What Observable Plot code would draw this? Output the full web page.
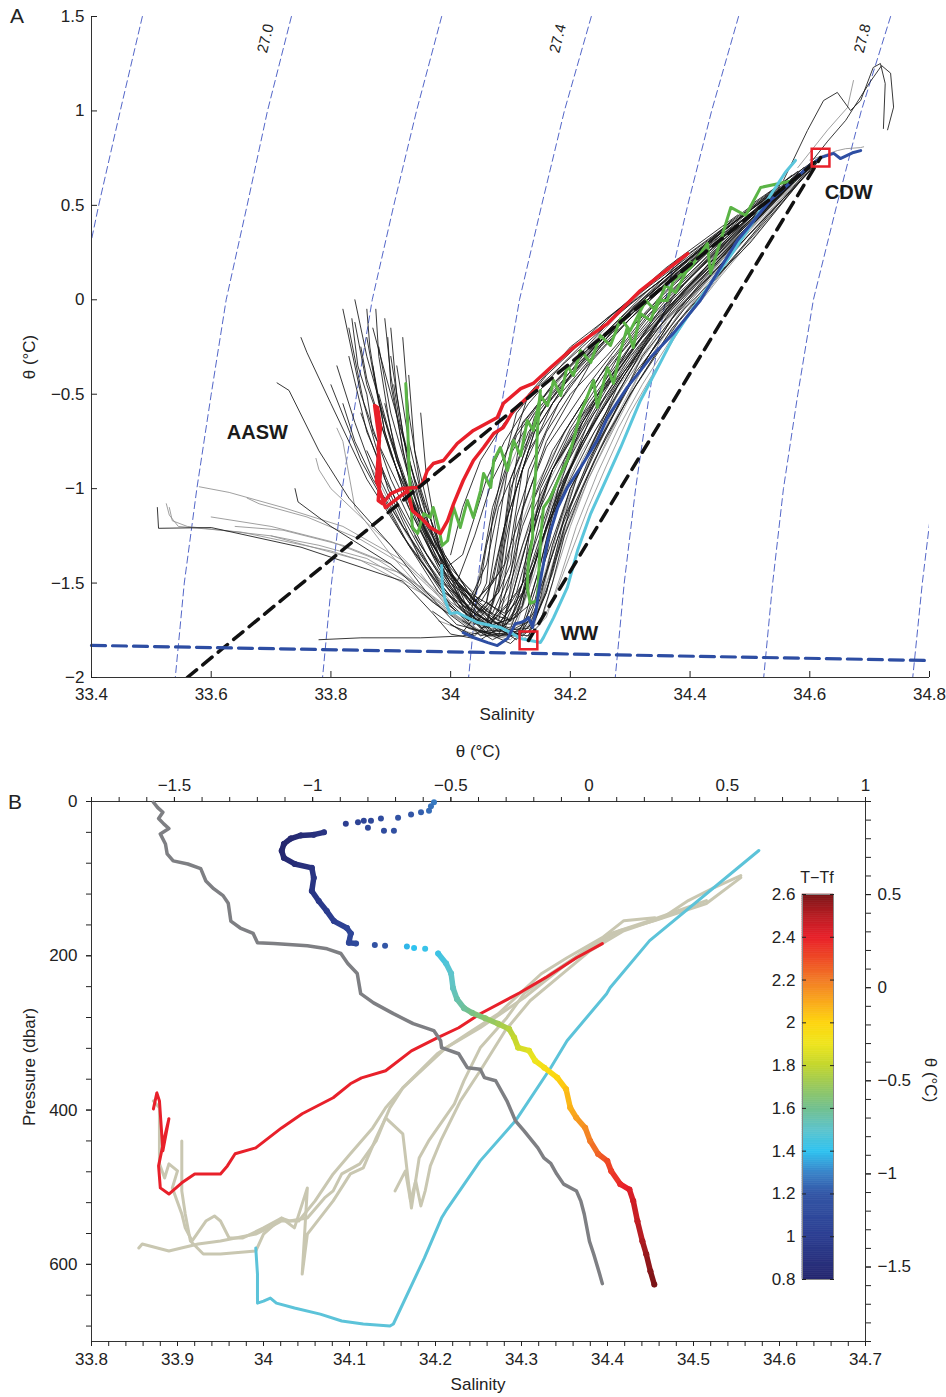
<!DOCTYPE html>
<html><head><meta charset="utf-8">
<script src="https://cdn.jsdelivr.net/npm/d3@7"></script>
<script src="https://cdn.jsdelivr.net/npm/@observablehq/plot@0.6"></script>
<style>
body{margin:0;background:#fff;font-family:"Liberation Sans",Arial,sans-serif;}
#wrap{position:relative;width:946px;height:1397px;overflow:hidden;background:#fff;}
.lbl{position:absolute;font-size:17px;color:#222;white-space:nowrap;transform:translate(-50%,-50%);}
.pan{position:absolute;font-size:21px;color:#222;}
</style></head><body><div id="wrap"></div>
<script>
// ---------------- Panel A data ----------------
const salTicksA = [33.4,33.6,33.8,34,34.2,34.4,34.6,34.8];
const thetaTicksA = [-2,-1.5,-1,-0.5,0,0.5,1,1.5];
const isoTheta = [1.5,1.0,0.5,0.0,-0.5,-1.0,-1.5,-2.0];
const iso268 = [33.485,33.448,33.412,33.379];
const iso270 = [33.734,33.694,33.660,33.625,33.600,33.576,33.555,33.540];
const iso272 = [33.985,33.943,33.905,33.869,33.843,33.819,33.801,33.786];
const iso274 = [34.235,34.190,34.152,34.115,34.088,34.063,34.045,34.030];
const iso276 = [34.481,34.436,34.396,34.359,34.332,34.309,34.290,34.275];
const iso278 = [34.735,34.686,34.645,34.606,34.580,34.556,34.538,34.523];
const iso280 = [34.985,34.937,34.895,34.857,34.830,34.807,34.788,34.772];
const isoLabelText = ["27.0","27.4","27.8"];
const isoLabelS = [33.691,34.179,34.688];
const isoLabelT = [1.384,1.384,1.384];
const regionText = ["AASW","CDW","WW"];
const regionS = [33.677,34.665,34.215];
const regionT = [-0.703,0.568,-1.767];
const freezeLine = [[33.4,-1.83],[34.8,-1.91]];
const mixLine1 = [[33.56,-2.0],[34.618,0.753]];
const mixLine2 = [[34.13,-1.804],[34.618,0.753]];
const squaresA = [[34.618,0.753],[34.130,-1.804]];

const blackCasts = [
 [[33.82,-0.05],[33.85,-0.5],[33.90,-0.95],[33.96,-1.35],[34.02,-1.65],[34.06,-1.72],[34.10,-1.3],[34.16,-0.75],[34.24,-0.3],[34.33,0.0],[34.45,0.35],[34.56,0.62]],
 [[33.84,-0.12],[33.86,-0.45],[33.91,-0.9],[33.97,-1.3],[34.03,-1.6],[34.08,-1.70],[34.12,-1.2],[34.17,-0.8],[34.26,-0.35],[34.35,0.02],[34.48,0.40],[34.58,0.66]],
 [[33.86,-0.2],[33.88,-0.55],[33.93,-1.0],[33.98,-1.4],[34.05,-1.68],[34.1,-1.74],[34.14,-1.4],[34.19,-0.95],[34.26,-0.5],[34.36,-0.05],[34.50,0.42],[34.60,0.70]],
 [[33.88,-0.25],[33.90,-0.6],[33.94,-1.05],[34.00,-1.45],[34.07,-1.70],[34.11,-1.55],[34.15,-1.1],[34.22,-0.65],[34.31,-0.2],[34.40,0.12],[34.52,0.48],[34.61,0.73]],
 [[33.90,-0.3],[33.92,-0.7],[33.95,-1.1],[34.01,-1.5],[34.04,-1.72],[34.07,-1.6],[34.09,-1.2],[34.14,-0.7],[34.21,-0.35],[34.32,0.0],[34.44,0.30],[34.57,0.64]],
 [[33.91,-0.35],[33.93,-0.75],[33.96,-1.15],[33.99,-1.45],[34.06,-1.78],[34.12,-1.75],[34.15,-1.45],[34.2,-1.0],[34.27,-0.55],[34.34,-0.15],[34.46,0.30],[34.6,0.72]],
 [[33.83,-0.3],[33.86,-0.7],[33.92,-1.15],[33.98,-1.5],[34.05,-1.74],[34.09,-1.7],[34.11,-1.35],[34.13,-0.9],[34.18,-0.55],[34.28,-0.12],[34.40,0.25],[34.55,0.6]],
 [[33.85,-0.6],[33.89,-0.95],[33.95,-1.3],[34.02,-1.62],[34.1,-1.78],[34.13,-1.7],[34.17,-1.35],[34.21,-0.95],[34.28,-0.45],[34.36,-0.05],[34.49,0.38],[34.61,0.74]],
 [[33.80,-0.45],[33.85,-0.85],[33.92,-1.25],[33.99,-1.55],[34.06,-1.70],[34.08,-1.5],[34.1,-1.05],[34.12,-0.65],[34.2,-0.35],[34.3,-0.05],[34.43,0.3],[34.57,0.66]],
 [[33.88,-0.5],[33.91,-0.85],[33.96,-1.25],[34.03,-1.58],[34.08,-1.76],[34.12,-1.62],[34.16,-1.2],[34.24,-0.7],[34.3,-0.38],[34.37,0.0],[34.5,0.4],[34.6,0.7]],
 [[33.93,-0.4],[33.94,-0.8],[33.97,-1.2],[34.01,-1.55],[34.03,-1.7],[34.05,-1.45],[34.07,-1.1],[34.11,-0.72],[34.17,-0.45],[34.27,-0.1],[34.39,0.2],[34.53,0.55]],
 [[33.86,-0.8],[33.92,-1.2],[33.98,-1.48],[34.04,-1.66],[34.11,-1.8],[34.14,-1.65],[34.18,-1.25],[34.23,-0.85],[34.29,-0.5],[34.38,-0.05],[34.5,0.35],[34.62,0.75]],
 [[33.87,-0.15],[33.9,-0.5],[33.94,-0.95],[33.99,-1.35],[34.04,-1.6],[34.08,-1.45],[34.10,-1.0],[34.15,-0.6],[34.24,-0.25],[34.34,0.05],[34.47,0.42],[34.58,0.68]],
 [[33.89,-0.55],[33.92,-0.95],[33.97,-1.35],[34.05,-1.62],[34.09,-1.72],[34.12,-1.5],[34.14,-1.05],[34.19,-0.7],[34.25,-0.4],[34.33,-0.08],[34.45,0.28],[34.59,0.68]],
 [[33.95,-0.6],[33.96,-0.95],[33.98,-1.3],[34.02,-1.6],[34.07,-1.75],[34.13,-1.78],[34.16,-1.55],[34.19,-1.15],[34.25,-0.75],[34.32,-0.3],[34.42,0.1],[34.56,0.6]],
 [[34.0,-1.72],[34.04,-1.78],[34.08,-1.65],[34.10,-1.3],[34.12,-0.9],[34.17,-0.55],[34.25,-0.25],[34.35,0.05],[34.48,0.4],[34.6,0.7]],
 [[33.97,-1.65],[34.02,-1.76],[34.06,-1.6],[34.08,-1.2],[34.10,-0.8],[34.13,-0.5],[34.2,-0.25],[34.31,0.02],[34.44,0.33],[34.58,0.66]],
 [[34.02,-1.7],[34.07,-1.8],[34.12,-1.72],[34.15,-1.4],[34.18,-1.0],[34.22,-0.65],[34.28,-0.3],[34.36,0.0],[34.48,0.35],[34.6,0.7]],
 [[34.05,-1.75],[34.1,-1.82],[34.14,-1.7],[34.17,-1.45],[34.2,-1.1],[34.24,-0.8],[34.3,-0.45],[34.37,-0.1],[34.47,0.25],[34.6,0.68]],
 [[33.99,-1.6],[34.03,-1.7],[34.06,-1.5],[34.07,-1.15],[34.09,-0.85],[34.11,-0.6],[34.16,-0.4],[34.26,-0.1],[34.38,0.2],[34.52,0.52]],
 [[33.84,0.0],[33.86,-0.3],[33.9,-0.75],[33.95,-1.2],[34.0,-1.5],[34.08,-1.72],[34.12,-1.55],[34.15,-1.15],[34.2,-0.8],[34.27,-0.42],[34.35,-0.05],[34.47,0.35],[34.59,0.7]],
 [[33.9,-0.15],[33.91,-0.5],[33.93,-0.9],[33.96,-1.2],[34.0,-1.42],[34.05,-1.6],[34.09,-1.4],[34.11,-0.95],[34.14,-0.62],[34.22,-0.3],[34.33,0.0],[34.46,0.35]],
 [[33.81,-0.35],[33.84,-0.65],[33.88,-1.0],[33.93,-1.3],[33.99,-1.55],[34.06,-1.74],[34.1,-1.6],[34.13,-1.25],[34.17,-0.9],[34.24,-0.55],[34.32,-0.2],[34.42,0.12],[34.56,0.58]],
 [[33.92,-0.2],[33.93,-0.6],[33.95,-1.0],[33.98,-1.3],[34.03,-1.55],[34.09,-1.66],[34.13,-1.45],[34.18,-1.05],[34.23,-0.65],[34.3,-0.3],[34.39,0.05],[34.5,0.38]],
 [[34.0,-1.35],[34.02,-1.1],[34.05,-0.85],[34.09,-0.65],[34.15,-0.45],[34.22,-0.25],[34.3,-0.02],[34.4,0.22],[34.52,0.5]],
 [[34.01,-1.5],[34.04,-1.25],[34.07,-0.95],[34.11,-0.7],[34.17,-0.45],[34.25,-0.2],[34.33,0.05],[34.45,0.35]],
 [[34.03,-1.6],[34.06,-1.4],[34.08,-1.1],[34.12,-0.8],[34.16,-0.55],[34.23,-0.3],[34.31,-0.05],[34.42,0.25],[34.55,0.55]],
 [[34.45,0.32],[34.5,0.45],[34.556,0.632],[34.596,0.896],[34.623,1.055],[34.646,1.098],[34.668,1.002],[34.685,1.055],[34.706,1.23],[34.718,1.251],[34.726,1.145],[34.723,0.907]],
 [[34.5,0.5],[34.60,0.72],[34.63,0.84],[34.66,0.95],[34.70,1.15],[34.72,1.24],[34.735,1.2],[34.74,1.02],[34.73,0.9]],
 [[33.71,-0.44],[33.73,-0.48],[33.78,-0.8],[33.83,-1.05],[33.9,-1.3],[33.96,-1.55],[34.01,-1.72],[34.06,-1.76],[34.1,-1.5],[34.14,-1.1],[34.2,-0.7],[34.28,-0.35],[34.37,0.0]],
 [[33.75,-0.2],[33.76,-0.28],[33.8,-0.55],[33.86,-0.95],[33.93,-1.3],[33.98,-1.55],[34.03,-1.7],[34.06,-1.6],[34.09,-1.2],[34.13,-0.8],[34.2,-0.45],[34.3,-0.1],[34.42,0.25]],
 [[33.74,-1.0],[33.745,-1.07],[33.8,-1.2],[33.9,-1.4],[33.97,-1.6],[34.03,-1.74],[34.08,-1.78],[34.1,-1.6],[34.13,-1.25],[34.17,-0.9],[34.23,-0.55],[34.31,-0.2]],
 [[33.78,-1.8],[33.85,-1.79],[33.95,-1.79],[34.02,-1.78],[34.07,-1.75],[34.11,-1.6],[34.14,-1.3],[34.18,-0.95],[34.24,-0.6],[34.32,-0.25]],
 [[33.83,-0.15],[33.855,-0.55],[33.895,-1.0],[33.95,-1.38],[34.0,-1.62],[34.05,-1.78],[34.09,-1.74],[34.13,-1.5],[34.17,-1.1],[34.22,-0.75],[34.29,-0.4],[34.37,-0.05],[34.49,0.35],[34.6,0.71]],
 [[33.89,-0.1],[33.9,-0.4],[33.92,-0.8],[33.95,-1.15],[34.0,-1.48],[34.07,-1.66],[34.1,-1.45],[34.12,-1.1],[34.16,-0.78],[34.23,-0.45],[34.31,-0.12],[34.42,0.2],[34.55,0.58]],
 [[33.87,-0.35],[33.89,-0.7],[33.93,-1.1],[33.98,-1.42],[34.03,-1.66],[34.08,-1.78],[34.13,-1.76],[34.16,-1.55],[34.19,-1.2],[34.24,-0.85],[34.3,-0.5],[34.38,-0.12],[34.5,0.32],[34.61,0.72]],
 [[33.51,-1.1],[33.512,-1.21],[33.6,-1.206],[33.75,-1.31],[33.92,-1.49],[33.97,-1.66],[34.0,-1.77],[34.05,-1.8],[34.1,-1.7],[34.14,-1.4],[34.18,-1.0],[34.25,-0.6],[34.33,-0.2],[34.44,0.15]],
 [[33.835,-0.1],[33.845,-0.35],[33.86,-0.5],[33.87,-0.7],[33.9,-0.9],[33.93,-1.1],[33.97,-1.35],[34.02,-1.6],[34.07,-1.72],[34.11,-1.68],[34.13,-1.45],[34.16,-1.15],[34.19,-0.85],[34.25,-0.5],[34.33,-0.15],[34.44,0.2],[34.57,0.63]],
 [[33.85,-0.25],[33.86,-0.42],[33.88,-0.62],[33.9,-0.82],[33.93,-1.05],[33.96,-1.25],[34.01,-1.5],[34.06,-1.65],[34.1,-1.7],[34.12,-1.5],[34.14,-1.2],[34.17,-0.9],[34.23,-0.58],[34.3,-0.25],[34.39,0.08],[34.52,0.5]],
 [[33.875,-0.05],[33.88,-0.3],[33.895,-0.6],[33.91,-0.85],[33.94,-1.1],[33.98,-1.35],[34.02,-1.55],[34.05,-1.66],[34.08,-1.55],[34.09,-1.3],[34.11,-1.0],[34.14,-0.7],[34.19,-0.45],[34.27,-0.17],[34.37,0.12],[34.5,0.47]],
 [[33.895,-0.2],[33.9,-0.45],[33.915,-0.7],[33.93,-0.95],[33.955,-1.2],[33.99,-1.42],[34.04,-1.62],[34.09,-1.75],[34.13,-1.74],[34.15,-1.58],[34.17,-1.3],[34.2,-1.0],[34.25,-0.7],[34.31,-0.38],[34.39,-0.05],[34.5,0.3],[34.61,0.73]],
 [[33.905,-0.45],[33.915,-0.65],[33.93,-0.85],[33.95,-1.05],[33.97,-1.25],[34.0,-1.45],[34.04,-1.6],[34.07,-1.5],[34.09,-1.2],[34.1,-0.95],[34.13,-0.7],[34.18,-0.47],[34.25,-0.22],[34.35,0.08],[34.47,0.42]],
 [[33.82,-0.55],[33.84,-0.75],[33.87,-0.95],[33.91,-1.15],[33.96,-1.4],[34.01,-1.62],[34.06,-1.76],[34.11,-1.78],[34.14,-1.6],[34.16,-1.35],[34.18,-1.05],[34.22,-0.75],[34.28,-0.42],[34.36,-0.1],[34.46,0.25],[34.59,0.69]],
 [[33.86,-0.05],[33.865,-0.25],[33.875,-0.45],[33.89,-0.7],[33.92,-1.0],[33.955,-1.25],[34.0,-1.52],[34.05,-1.7],[34.1,-1.76],[34.12,-1.62],[34.135,-1.3],[34.15,-1.0],[34.2,-0.68],[34.26,-0.38],[34.34,-0.05],[34.45,0.3],[34.58,0.67]],
 [[34.02,-1.55],[34.05,-1.65],[34.08,-1.55],[34.1,-1.4],[34.11,-1.15],[34.13,-0.95],[34.16,-0.7],[34.2,-0.5],[34.26,-0.3],[34.33,-0.05],[34.43,0.25],[34.56,0.6]],
 [[34.06,-1.6],[34.1,-1.7],[34.13,-1.62],[34.15,-1.4],[34.17,-1.15],[34.2,-0.9],[34.24,-0.65],[34.29,-0.38],[34.35,-0.1],[34.45,0.23],[34.58,0.65]],
 [[34.08,-1.72],[34.12,-1.78],[34.15,-1.7],[34.17,-1.5],[34.19,-1.25],[34.22,-1.0],[34.26,-0.72],[34.31,-0.45],[34.37,-0.15],[34.46,0.18],[34.6,0.7]],
 [[33.98,-1.45],[34.02,-1.35],[34.04,-1.15],[34.06,-0.95],[34.09,-0.75],[34.13,-0.55],[34.19,-0.33],[34.27,-0.08],[34.36,0.17],[34.48,0.45]],
 [[33.94,-1.25],[33.99,-1.5],[34.03,-1.62],[34.05,-1.5],[34.06,-1.3],[34.08,-1.05],[34.1,-0.82],[34.14,-0.6],[34.2,-0.38],[34.28,-0.12],[34.38,0.16],[34.5,0.48]]
];
const grayCasts = [
 [[33.525,-1.08],[33.53,-1.14],[33.545,-1.2],[33.65,-1.23],[33.8,-1.33],[33.92,-1.45],[34.0,-1.64],[34.06,-1.74],[34.1,-1.55],[34.15,-1.05],[34.22,-0.62],[34.3,-0.27],[34.4,0.08],[34.52,0.45]],
 [[33.53,-1.10],[33.535,-1.17],[33.56,-1.2],[33.7,-1.25],[33.85,-1.38],[33.95,-1.55],[34.02,-1.7],[34.08,-1.75],[34.12,-1.6],[34.16,-1.2],[34.22,-0.8],[34.3,-0.4],[34.38,-0.05],[34.5,0.35]],
 [[33.58,-0.99],[33.63,-1.02],[33.72,-1.1],[33.82,-1.2],[33.92,-1.38],[33.98,-1.55],[34.04,-1.7],[34.09,-1.68],[34.12,-1.3],[34.17,-0.9],[34.25,-0.5],[34.34,-0.15],[34.46,0.25]],
 [[33.64,-1.2],[33.72,-1.22],[33.82,-1.3],[33.9,-1.4],[33.97,-1.58],[34.03,-1.72],[34.07,-1.62],[34.1,-1.35],[34.14,-1.0],[34.2,-0.65],[34.27,-0.3]],
 [[33.81,-0.68],[33.82,-0.75],[33.84,-1.1],[33.9,-1.35],[33.97,-1.6],[34.04,-1.75],[34.1,-1.8],[34.14,-1.65],[34.17,-1.3],[34.21,-0.95],[34.27,-0.55]],
 [[33.95,-1.45],[34.0,-1.65],[34.06,-1.78],[34.12,-1.78],[34.15,-1.6],[34.18,-1.2],[34.22,-0.85],[34.28,-0.5],[34.35,-0.15],[34.45,0.2],[34.58,0.65]],
 [[33.9,-1.1],[33.96,-1.42],[34.03,-1.68],[34.09,-1.76],[34.14,-1.72],[34.17,-1.4],[34.21,-1.0],[34.27,-0.6],[34.34,-0.25],[34.44,0.15],[34.56,0.58]],
 [[33.93,-1.3],[34.0,-1.6],[34.05,-1.7],[34.1,-1.72],[34.13,-1.55],[34.15,-1.25],[34.19,-0.9],[34.24,-0.55],[34.32,-0.2],[34.42,0.15]],
 [[34.0,-1.55],[34.04,-1.68],[34.09,-1.74],[34.14,-1.7],[34.16,-1.5],[34.2,-1.15],[34.25,-0.78],[34.31,-0.42],[34.38,-0.08],[34.48,0.28],[34.6,0.7]],
 [[33.96,-1.2],[34.0,-1.45],[34.04,-1.55],[34.06,-1.3],[34.09,-0.95],[34.13,-0.65],[34.2,-0.35],[34.28,-0.08],[34.38,0.22]],
 [[33.87,-0.9],[33.91,-1.15],[33.95,-1.35],[34.0,-1.55],[34.06,-1.7],[34.11,-1.72],[34.14,-1.45],[34.17,-1.1],[34.21,-0.8],[34.27,-0.5],[34.36,-0.12]],
 [[33.98,-1.7],[34.03,-1.76],[34.08,-1.79],[34.12,-1.76],[34.155,-1.55],[34.19,-1.25],[34.23,-0.95],[34.28,-0.62],[34.33,-0.3],[34.41,0.05],[34.5,0.38]],
 [[33.6,-1.15],[33.7,-1.2],[33.8,-1.28],[33.88,-1.38],[33.95,-1.52],[34.01,-1.68],[34.05,-1.78],[34.09,-1.7]],
 [[33.66,-1.05],[33.68,-1.08],[33.76,-1.15],[33.85,-1.27],[33.93,-1.42],[33.99,-1.6],[34.04,-1.73]],
 [[33.7,-1.25],[33.78,-1.3],[33.86,-1.37],[33.93,-1.5],[33.99,-1.65],[34.05,-1.75],[34.1,-1.78]],
 [[33.775,-0.84],[33.78,-0.9],[33.8,-1.0],[33.85,-1.15],[33.9,-1.3],[33.96,-1.5],[34.02,-1.68],[34.08,-1.78]],
 [[34.12,-1.8],[34.15,-1.72],[34.17,-1.5],[34.2,-1.2],[34.23,-0.95],[34.27,-0.7],[34.31,-0.45],[34.36,-0.2],[34.42,0.05],[34.5,0.35],[34.6,0.72]],
 [[34.13,-1.78],[34.16,-1.68],[34.185,-1.45],[34.21,-1.2],[34.245,-0.92],[34.28,-0.68],[34.32,-0.45],[34.37,-0.2],[34.43,0.05],[34.51,0.37],[34.6,0.72]],
 [[34.14,-1.76],[34.17,-1.6],[34.2,-1.35],[34.23,-1.1],[34.26,-0.88],[34.3,-0.6],[34.34,-0.38],[34.39,-0.12],[34.45,0.12],[34.53,0.42],[34.61,0.74]],
 [[34.58,0.7],[34.63,0.9],[34.663,1.018],[34.673,1.161]],
 [[34.60,0.74],[34.646,0.79],[34.66,0.80],[34.685,0.806],[34.69,0.81]]
];
const redA = [[34.396,0.245],[34.317,0.049],[34.262,-0.126],[34.205,-0.253],[34.167,-0.359],[34.138,-0.443],[34.117,-0.470],[34.088,-0.549],[34.078,-0.623],[34.038,-0.692],[34.011,-0.761],[33.988,-0.851],[33.971,-0.867],[33.961,-0.904],[33.953,-0.973],[33.945,-0.994],[33.920,-0.999],[33.900,-1.026],[33.886,-1.079],[33.879,-1.063],[33.883,-0.904],[33.879,-0.782],[33.883,-0.676],[33.878,-0.570],[33.873,-0.560],[33.881,-0.745],[33.876,-0.957],[33.891,-1.100],[33.913,-1.047],[33.928,-1.010],[33.936,-1.116],[33.950,-1.153],[33.966,-1.206],[33.983,-1.237],[33.995,-1.169],[34.005,-1.079],[34.021,-0.957],[34.038,-0.851],[34.055,-0.782],[34.072,-0.708],[34.088,-0.676],[34.105,-0.586],[34.128,-0.517],[34.145,-0.464]];
const greenA1 = [[33.925,-0.443],[33.928,-0.639],[33.930,-0.851],[33.933,-1.036],[33.936,-1.206],[33.945,-1.237],[33.955,-1.132],[33.966,-1.153],[33.971,-1.100],[33.980,-1.206],[33.986,-1.301],[33.995,-1.275],[34.005,-1.100],[34.016,-1.206],[34.028,-1.063],[34.038,-1.153],[34.050,-1.010],[34.055,-0.920],[34.067,-0.994],[34.072,-0.851],[34.083,-0.782],[34.095,-0.904],[34.105,-0.745],[34.117,-0.825],[34.128,-0.639],[34.138,-0.692],[34.150,-0.507],[34.162,-0.560],[34.172,-0.427],[34.184,-0.507],[34.195,-0.348],[34.205,-0.401],[34.217,-0.269],[34.234,-0.332],[34.250,-0.189],[34.267,-0.242],[34.284,-0.099],[34.300,-0.163],[34.326,-0.004],[34.342,-0.057],[34.359,0.076],[34.376,0.039],[34.401,0.197]];
const greenA2 = [[34.150,-0.480],[34.145,-0.692],[34.142,-0.920],[34.137,-1.100],[34.137,-1.259],[34.130,-1.380],[34.128,-1.523],[34.133,-1.608],[34.145,-1.592],[34.150,-1.275],[34.155,-1.100],[34.167,-1.047],[34.184,-0.920],[34.195,-0.851],[34.205,-0.745],[34.217,-0.602],[34.239,-0.427],[34.245,-0.570],[34.262,-0.359],[34.272,-0.443],[34.284,-0.269],[34.295,-0.147],[34.305,-0.253],[34.317,-0.073],[34.334,-0.110],[34.346,-0.004],[34.362,-0.004],[34.372,0.102],[34.401,0.171],[34.429,0.298],[34.434,0.139],[34.468,0.489],[34.493,0.446],[34.518,0.595],[34.573,0.632]];
const cyanA = [[33.985,-1.407],[33.986,-1.513],[33.991,-1.592],[33.999,-1.661],[34.011,-1.656],[34.028,-1.683],[34.045,-1.709],[34.067,-1.725],[34.083,-1.735],[34.100,-1.762],[34.117,-1.794],[34.133,-1.804],[34.150,-1.815],[34.155,-1.789],[34.172,-1.683],[34.195,-1.523],[34.212,-1.328],[34.234,-1.132],[34.259,-0.957],[34.284,-0.782],[34.317,-0.533],[34.346,-0.359],[34.372,-0.200],[34.406,-0.041],[34.434,0.086],[34.468,0.235],[34.501,0.393],[34.534,0.552],[34.559,0.674],[34.576,0.738]];
const blueA = [[34.021,-1.762],[34.038,-1.788],[34.062,-1.815],[34.078,-1.831],[34.095,-1.794],[34.108,-1.715],[34.117,-1.709],[34.125,-1.698],[34.130,-1.682],[34.137,-1.735],[34.138,-1.709],[34.142,-1.661],[34.145,-1.592],[34.150,-1.486],[34.162,-1.275],[34.179,-1.100],[34.195,-0.994],[34.217,-0.888],[34.245,-0.745],[34.262,-0.623],[34.295,-0.464],[34.334,-0.306],[34.372,-0.178],[34.417,-0.004],[34.479,0.314],[34.534,0.526],[34.596,0.700],[34.618,0.753],[34.640,0.775],[34.651,0.748],[34.673,0.780],[34.685,0.790]];

// ---------------- Panel B data ----------------
const salTicksB = [33.8,33.9,34,34.1,34.2,34.3,34.4,34.5,34.6,34.7];
const presTicksB = [0,200,400,600];
const thetaTopTicks = [-1.5,-1,-0.5,0,0.5,1];
const thetaRightTicks = [-1.5,-1,-0.5,0,0.5];
const cbTicks = [0.8,1,1.2,1.4,1.6,1.8,2,2.2,2.4,2.6];
const cbValues = [0.8,1.0,1.2,1.3,1.4,1.5,1.6,1.7,1.8,1.9,2.0,2.1,2.2,2.3,2.4,2.5,2.6];
const cbColors = ["#25276f","#2c3e91","#3356a6","#3a84c9","#2fc3f0","#5ec4cc","#72c08f","#97c85e","#c3d62f","#eee51e","#fed50f","#f9a81c","#f27b26","#ee4a25","#e8202a","#b81d23","#7a1416"];
const graySP = [[33.872,1],[33.877,8],[33.883,14],[33.878,22],[33.884,29],[33.890,35],[33.880,42],[33.886,55],[33.888,68],[33.895,77],[33.912,81],[33.927,87],[33.933,103],[33.942,113],[33.953,122],[33.959,132],[33.962,155],[33.973,164],[33.988,171],[33.993,183],[34.012,184],[34.051,187],[34.074,191],[34.090,197],[34.098,210],[34.109,223],[34.113,249],[34.128,261],[34.151,275],[34.174,288],[34.198,297],[34.206,310],[34.207,319],[34.227,327],[34.237,345],[34.252,347],[34.257,358],[34.270,362],[34.283,388],[34.293,414],[34.303,427],[34.319,449],[34.326,462],[34.334,469],[34.341,483],[34.349,496],[34.364,505],[34.369,518],[34.373,535],[34.379,570],[34.384,587],[34.391,613],[34.394,625]];
const profSurface = [[-0.561,1,1.28],[-0.572,6,1.26],[-0.579,12,1.25],[-0.608,14,1.22],[-0.644,17,1.2],[-0.691,21,1.17],[-0.753,22,1.12],[-0.789,25,1.08],[-0.815,25,1.06],[-0.836,27,1.04],[-0.880,29,1.0],[-0.800,34,1.08],[-0.742,38,1.12],[-0.706,38,1.15]];
const profUpper = [[-0.959,40,0.92],[-0.996,43,0.88],[-1.043,44,0.84],[-1.079,48,0.81],[-1.104,55,0.8],[-1.112,64,0.8],[-1.104,73,0.81],[-1.065,81,0.85],[-1.003,86,0.9],[-0.996,99,0.92],[-1.003,116,0.92],[-0.978,129,0.95],[-0.949,142,0.98],[-0.923,155,1.0],[-0.876,164,1.05],[-0.862,171,1.07],[-0.869,183,1.07],[-0.843,184,1.1]];
const profGap = [[-0.775,186,1.17],[-0.738,187,1.2],[-0.659,188,1.38],[-0.633,190,1.4],[-0.593,191,1.42]];
const profLower = [[-0.546,197,1.43],[-0.517,210,1.47],[-0.499,223,1.5],[-0.492,242,1.52],[-0.478,256,1.55],[-0.452,268,1.58],[-0.423,274,1.62],[-0.376,281,1.67],[-0.329,288,1.72],[-0.289,295,1.77],[-0.271,306,1.8],[-0.257,319,1.83],[-0.217,323,1.87],[-0.195,336,1.9],[-0.162,345,1.95],[-0.115,358,2.0],[-0.083,373,2.05],[-0.068,397,2.08],[-0.046,410,2.12],[-0.014,423,2.16],[0.004,440,2.2],[0.033,457,2.25],[0.066,466,2.3],[0.080,479,2.33],[0.113,496,2.38],[0.146,503,2.42],[0.160,518,2.45],[0.175,544,2.48],[0.193,570,2.52],[0.207,587,2.55],[0.222,609,2.58],[0.236,626,2.6]];
const redB = [[34.394,0.237],[34.364,0.161],[34.328,0.054],[34.298,-0.027],[34.252,-0.140],[34.227,-0.215],[34.202,-0.269],[34.172,-0.339],[34.142,-0.446],[34.114,-0.484],[34.101,-0.516],[34.081,-0.591],[34.045,-0.677],[34.021,-0.753],[33.991,-0.860],[33.967,-0.892],[33.958,-0.957],[33.950,-1.000],[33.935,-1.000],[33.920,-1.000],[33.905,-1.048],[33.890,-1.108],[33.880,-1.075],[33.878,-0.957],[33.884,-0.823],[33.890,-0.704],[33.883,-0.876],[33.879,-0.608],[33.876,-0.565],[33.872,-0.651]];
const cyanB = [[34.576,0.737],[34.449,0.253],[34.403,0.0],[34.399,-0.032],[34.353,-0.285],[34.334,-0.430],[34.293,-0.715],[34.252,-0.930],[34.212,-1.199],[34.207,-1.237],[34.187,-1.452],[34.151,-1.806],[34.147,-1.817],[34.116,-1.806],[34.091,-1.790],[34.066,-1.753],[34.036,-1.720],[34.015,-1.694],[34.008,-1.667],[34.000,-1.683],[33.993,-1.694],[33.993,-1.538],[33.991,-1.398]];
const beigeB1 = [[34.555,0.591],[34.515,0.452],[34.455,0.360],[34.414,0.306],[34.394,0.253],[34.353,0.129],[34.328,0.038],[34.303,-0.054],[34.252,-0.215],[34.212,-0.323],[34.162,-0.538],[34.142,-0.645],[34.127,-0.753],[34.101,-0.892],[34.081,-1.000],[34.060,-1.145],[34.041,-1.253],[34.021,-1.253],[34.006,-1.290],[33.991,-1.323],[33.950,-1.360],[33.924,-1.376],[33.890,-1.414],[33.859,-1.376],[33.855,-1.398]];
const beigeB2 = [[34.515,0.468],[34.449,0.360],[34.403,0.290],[34.334,0.075],[34.303,-0.032],[34.283,-0.161],[34.252,-0.323],[34.233,-0.500],[34.222,-0.624],[34.192,-0.823],[34.181,-0.914],[34.172,-1.183],[34.162,-0.785],[34.142,-0.699],[34.131,-0.806],[34.116,-0.968],[34.101,-1.000],[34.081,-1.145],[34.051,-1.323],[34.045,-1.538],[34.051,-1.075],[34.036,-1.290],[34.021,-1.237],[34.000,-1.323],[33.991,-1.414],[33.950,-1.430],[33.930,-1.430],[33.915,-1.360],[33.909,-1.215],[33.905,-1.091],[33.905,-0.823]];
const beigeB3 = [[34.455,0.376],[34.419,0.360],[34.394,0.269],[34.353,0.161],[34.323,0.075],[34.298,-0.032],[34.273,-0.140],[34.237,-0.247],[34.202,-0.355],[34.162,-0.538],[34.147,-0.645],[34.142,-0.699],[34.131,-0.823],[34.112,-0.946],[34.091,-1.000],[34.081,-1.091],[34.071,-1.129],[34.051,-1.237],[34.030,-1.253],[34.021,-1.237],[34.000,-1.290],[33.976,-1.344],[33.960,-1.344],[33.950,-1.253],[33.943,-1.226],[33.933,-1.253],[33.917,-1.360],[33.909,-1.290],[33.905,-1.215],[33.894,-1.075],[33.900,-0.984],[33.890,-0.946],[33.885,-1.022],[33.879,-0.946],[33.879,-0.645],[33.872,-0.608]];
const beigeB4 = [[34.555,0.602],[34.524,0.538],[34.494,0.468],[34.464,0.376],[34.419,0.306],[34.380,0.199],[34.345,0.065],[34.310,-0.070],[34.281,-0.231],[34.252,-0.446],[34.229,-0.608],[34.206,-0.823],[34.194,-0.957],[34.188,-1.091],[34.183,-1.172],[34.177,-1.038],[34.171,-1.145],[34.165,-0.984],[34.153,-1.091]];

// ---------------- helpers ----------------
const FONT = "Liberation Sans, Arial, Helvetica, sans-serif";
const baseStyle = {background:"transparent", fontFamily:FONT, fontSize:"17px", color:"#222", overflow:"visible"};
const fmt = d => (d < 0 ? "\u2212" : "") + String(+Math.abs(d).toFixed(2));
const blank = () => "";
const castRows = casts => casts.flatMap((c,i)=>c.map(([S,t])=>({S,t,id:i})));
const pairRows = arr => arr.map(([a,b])=>({a,b}));
const wrap = document.getElementById("wrap");
function place(el, left, top){ el.style.position="absolute"; el.style.left=left+"px"; el.style.top=top+"px"; wrap.appendChild(el); }
function label(text, x, y, rot, size, cls){
  const d=document.createElement("div"); d.className=cls||"lbl"; d.textContent=text;
  d.style.left=x+"px"; d.style.top=y+"px";
  if(size) d.style.fontSize=size+"px";
  if(cls!=="pan") d.style.transform="translate(-50%,-50%)"+(rot?` rotate(${rot}deg)`:"");
  wrap.appendChild(d);
}

// ---------------- Panel A ----------------
const isoList = [iso268,iso270,iso272,iso274,iso276,iso278,iso280];
const isoRows = isoList.flatMap((arr,i)=>arr.map((S,j)=>({S, t:isoTheta[j], id:i})));
const plotA = Plot.plot({
  width:946, height:735, marginTop:16, marginRight:17, marginBottom:58, marginLeft:91,
  x:{domain:[33.4,34.8]}, y:{domain:[-2,1.5]},
  style: baseStyle,
  marks: [
    Plot.line(isoRows, {x:"S", y:"t", z:"id", stroke:"#5366c8", strokeWidth:1, strokeDasharray:"7,4", clip:true}),
    Plot.text(isoLabelText.map((t,i)=>({t, S:isoLabelS[i], th:isoLabelT[i]})), {x:"S", y:"th", text:"t", rotate:-76, fontSize:15, fill:"#222"}),
    Plot.line(castRows(grayCasts), {x:"S", y:"t", z:"id", stroke:"#8f8f8f", strokeWidth:0.85}),
    Plot.line(castRows(blackCasts), {x:"S", y:"t", z:"id", stroke:"#141414", strokeWidth:0.85}),
    Plot.line(pairRows(greenA1), {x:"a", y:"b", stroke:"#5bb446", strokeWidth:3}),
    Plot.line(pairRows(greenA2), {x:"a", y:"b", stroke:"#5bb446", strokeWidth:3}),
    Plot.line(pairRows(cyanA), {x:"a", y:"b", stroke:"#5ac6dc", strokeWidth:3}),
    Plot.line(pairRows(blueA), {x:"a", y:"b", stroke:"#2e4ea3", strokeWidth:3}),
    Plot.line(pairRows(redA), {x:"a", y:"b", stroke:"#e8202a", strokeWidth:3.5}),
    Plot.line(pairRows(mixLine1), {x:"a", y:"b", stroke:"#111", strokeWidth:3.5, strokeDasharray:"12,8", clip:true}),
    Plot.line(pairRows(mixLine2), {x:"a", y:"b", stroke:"#111", strokeWidth:3.5, strokeDasharray:"12,8"}),
    Plot.line(pairRows(freezeLine), {x:"a", y:"b", stroke:"#2d4da3", strokeWidth:3.2, strokeDasharray:"14,7"}),
    Plot.dot(pairRows(squaresA), {x:"a", y:"b", symbol:"square", r:10, stroke:"#e8202a", strokeWidth:2.5, fill:"none"}),
    Plot.text(regionText.map((t,i)=>({t, S:regionS[i], th:regionT[i]})), {x:"S", y:"th", text:"t", fontSize:20, fontWeight:"bold", fill:"#1a1a1a"}),
    Plot.ruleY([-2], {stroke:"#333", strokeWidth:1}),
    Plot.ruleX([33.4], {stroke:"#333", strokeWidth:1}),
    Plot.axisX({ticks:salTicksA, tickFormat:fmt, tickSize:-6, tickPadding:16, fontSize:17, label:null}),
    Plot.axisY({ticks:thetaTicksA, tickFormat:fmt, tickSize:-6, tickPadding:13, fontSize:17, label:null})
  ]
});
place(plotA, 0, 0);

// ---------------- Panel B ----------------
const commonB = {width:946, height:662, marginTop:66, marginRight:81, marginBottom:56, marginLeft:91, style: baseStyle};
const minorSal = d3.range(0,46).map(i=>+(33.8+i*0.02).toFixed(2));
const minorPres = d3.range(0,18).map(i=>i*40);
const minorTop = d3.range(0,29).map(i=>+(-1.8+i*0.1).toFixed(1));
const minorRight = d3.range(0,30).map(i=>+(-1.9+i*0.1).toFixed(1));

const plotB3 = Plot.plot({...commonB,
  x:{domain:[33.8,34.7], axis:null}, y:{domain:[-1.9,1.0]},
  marks:[
    Plot.line(pairRows(beigeB1), {x:"a", y:"b", stroke:"#c9c7b1", strokeWidth:3}),
    Plot.line(pairRows(beigeB2), {x:"a", y:"b", stroke:"#c9c7b1", strokeWidth:3}),
    Plot.line(pairRows(beigeB3), {x:"a", y:"b", stroke:"#c9c7b1", strokeWidth:3}),
    Plot.line(pairRows(beigeB4), {x:"a", y:"b", stroke:"#c9c7b1", strokeWidth:3}),
    Plot.line(pairRows(cyanB), {x:"a", y:"b", stroke:"#5cc3d9", strokeWidth:3}),
    Plot.line(pairRows(redB), {x:"a", y:"b", stroke:"#e8202a", strokeWidth:3}),
    Plot.axisY({anchor:"right", ticks:thetaRightTicks, tickFormat:fmt, tickSize:5, tickPadding:7, fontSize:17, label:null}),
    Plot.axisY({anchor:"right", ticks:minorRight, tickSize:5, tickFormat:blank, label:null})
  ]
});
place(plotB3, 0, 735);

const plotB1 = Plot.plot({...commonB,
  x:{domain:[33.8,34.7]}, y:{domain:[0,700], reverse:true},
  marks:[
    Plot.frame({stroke:"#333"}),
    Plot.line(pairRows(graySP), {x:"a", y:"b", stroke:"#7e7f83", strokeWidth:3.5}),
    Plot.axisX({ticks:salTicksB, tickFormat:fmt, tickSize:5, tickPadding:6, fontSize:17, label:null}),
    Plot.axisX({ticks:minorSal, tickSize:5, tickFormat:blank, label:null}),
    Plot.axisY({ticks:presTicksB, tickFormat:fmt, tickSize:5, tickPadding:9, fontSize:17, label:null}),
    Plot.axisY({ticks:minorPres, tickSize:5, tickFormat:blank, label:null})
  ]
});
place(plotB1, 0, 735);

const linkSegs = arr => arr.slice(1).map((d,i)=>({x1:arr[i][0], y1:arr[i][1], x2:d[0], y2:d[1], v:(arr[i][2]+d[2])/2}));
const profPts = [...profSurface, ...profUpper, ...profGap, ...profLower].map(([t,p,v])=>({t,p,v}));
const plotB2 = Plot.plot({...commonB,
  x:{domain:[-1.8,1.0]}, y:{domain:[0,700], reverse:true, axis:null},
  color:{type:"linear", domain:cbValues, range:cbColors},
  marks:[
    Plot.link([...linkSegs(profUpper), ...linkSegs(profLower)], {x1:"x1", y1:"y1", x2:"x2", y2:"y2", stroke:"v", strokeWidth:5.5, strokeLinecap:"round"}),
    Plot.dot(profPts, {x:"t", y:"p", fill:"v", r:3}),
    Plot.axisX({anchor:"top", ticks:thetaTopTicks, tickFormat:fmt, tickSize:5, tickPadding:6, fontSize:17, label:null}),
    Plot.axisX({anchor:"top", ticks:minorTop, tickSize:5, tickFormat:blank, label:null})
  ]
});
place(plotB2, 0, 735);

// colorbar
const bands = d3.range(0,180).map(i=>({y1:0.8+i*0.01, y2:0.8+(i+1)*0.01, v:0.8+i*0.01+0.005}));
const plotCB = Plot.plot({
  width:80, height:430, marginLeft:42, marginRight:7, marginTop:34, marginBottom:11,
  x:{domain:[0,1], axis:null}, y:{domain:[0.8,2.6]},
  color:{type:"linear", domain:cbValues, range:cbColors},
  style: baseStyle,
  marks:[
    Plot.rect(bands, {x1:0, x2:1, y1:"y1", y2:"y2", fill:"v", stroke:"v", strokeWidth:0.6}),
    Plot.frame({stroke:"#888"}),
    Plot.axisY({ticks:cbTicks, tickFormat:fmt, tickSize:-4, tickPadding:11, fontSize:17, label:null}),
    Plot.axisY({anchor:"right", ticks:cbTicks, tickSize:-4, tickFormat:blank, label:null})
  ]
});
place(plotCB, 760, 860);

// ---------------- text labels ----------------
label("A", 10, 4, 0, 21, "pan");
label("θ (°C)", 30, 357, -90);
label("Salinity", 507, 715);
label("B", 8, 790, 0, 21, "pan");
label("θ (°C)", 478, 752);
label("Pressure (dbar)", 30, 1067, -90);
label("Salinity", 478, 1385);
label("θ (°C)", 930, 1080, 90);
label("T−Tf", 817, 878, 0, 16);
</script></body></html>
